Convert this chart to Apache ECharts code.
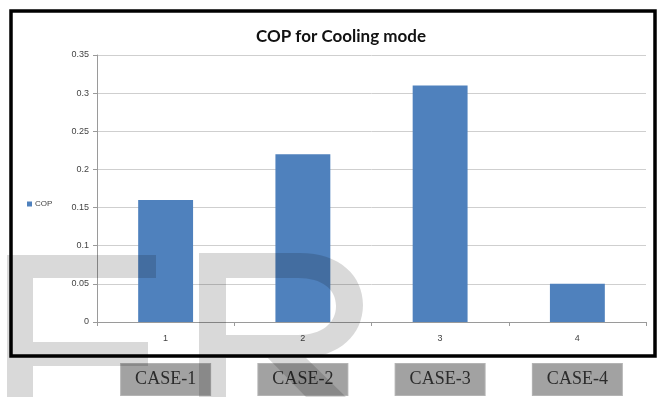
<!DOCTYPE html>
<html>
<head>
<meta charset="utf-8">
<script src="https://cdn.jsdelivr.net/npm/echarts@6/dist/echarts.min.js"></script>
<style>
  html, body { margin: 0; padding: 0; background: #ffffff; }
  #chart { width: 663px; height: 397px; }
</style>
</head>
<body>
<div id="chart"></div>
<script>
// Run numbers, case names and the COP measured for each
const categories = ['1', '2', '3', '4'];
const caseLabels = ['CASE-1', 'CASE-2', 'CASE-3', 'CASE-4'];
const copValues = [0.16, 0.22, 0.31, 0.05];
const seriesName = 'COP';
const chartTitle = 'COP for Cooling mode';

const chart = echarts.init(document.getElementById('chart'), null, { renderer: 'canvas' });

// Translucent grey lettering laid over the lower-left part of the figure
const shade = 'rgba(0,0,0,0.15)';
const letterF = 'M7,255 L156,255 L156,278 L33,278 L33,342 L148,342 L148,366 L33,366 L33,397 L7,397 Z';
const letterR =
  'M199,253 L226,253 L226,397 L199,397 Z ' +
  'M199,253 L300,253 C340,253 363,276 363,305 C363,334 340,357 302,358 L199,358 Z ' +
  'M226,278 L226,335 L298,335 C322,335 336,323 336,306 C336,289 322,278 298,278 Z ' +
  'M262,352 L300,352 L346,397 L306,397 Z';

chart.setOption({
  backgroundColor: '#ffffff',
  animation: false,
  title: {
    text: chartTitle,
    left: 336,
    textAlign: 'center',
    top: 23,
    textStyle: { fontFamily: 'Lato', fontWeight: 'bold', fontSize: 17, color: '#111' }
  },
  legend: {
    data: [seriesName],
    left: 22,
    top: 195,
    icon: 'rect',
    itemWidth: 5,
    itemHeight: 5,
    itemGap: 3,
    textStyle: { fontFamily: 'Liberation Sans', fontSize: 8, color: '#444', padding: [0, 0, 0, -2] }
  },
  grid: { left: 97, right: 17, top: 55, bottom: 75 },
  xAxis: [
    {
      type: 'category',
      data: categories,
      axisLine: { lineStyle: { color: '#9a9a9a', width: 1 } },
      axisTick: { show: true, length: 4, inside: false, lineStyle: { color: '#9a9a9a' } },
      axisLabel: { fontFamily: 'Liberation Sans', fontSize: 9, color: '#444', margin: 12 },
      splitLine: { show: false }
    },
    {
      type: 'category',
      data: caseLabels,
      position: 'bottom',
      axisLine: { show: false },
      axisTick: { show: false },
      axisLabel: {
        margin: 42,
        fontFamily: 'Liberation Serif',
        fontSize: 18,
        lineHeight: 21,
        color: '#2b2b2b',
        backgroundColor: '#a2a2a2',
        borderColor: '#b4b4b4',
        borderWidth: 1,
        padding: [5, 14, 5, 14]
      }
    }
  ],
  yAxis: {
    type: 'value',
    min: 0,
    max: 0.35,
    interval: 0.05,
    axisLine: { show: true, lineStyle: { color: '#9a9a9a' } },
    axisTick: { show: true, length: 4, lineStyle: { color: '#9a9a9a' } },
    axisLabel: {
      fontFamily: 'Liberation Sans',
      fontSize: 9,
      color: '#444',
      margin: 8,
      formatter: v => String(parseFloat(v.toFixed(2)))
    },
    splitLine: { lineStyle: { color: '#cfcfcf', width: 1 } }
  },
  series: [
    {
      name: seriesName,
      type: 'bar',
      xAxisIndex: 0,
      data: copValues,
      barWidth: '40%',
      itemStyle: { color: '#4f81bd' }
    },
    {
      // the two overlay letters, drawn above everything else
      type: 'custom',
      coordinateSystem: 'none',
      silent: true,
      z: 100,
      data: [0],
      renderItem: () => ({
        type: 'group',
        children: [
          { type: 'path', shape: { pathData: letterF }, style: { fill: shade } },
          { type: 'path', shape: { pathData: letterR }, style: { fill: shade } }
        ]
      })
    }
  ],
  graphic: [
    {
      type: 'rect',
      z: 50,
      shape: { x: 11, y: 11, width: 644, height: 345 },
      style: { fill: 'none', stroke: '#000', lineWidth: 3.5 }
    }
  ]
});
</script>
</body>
</html>
